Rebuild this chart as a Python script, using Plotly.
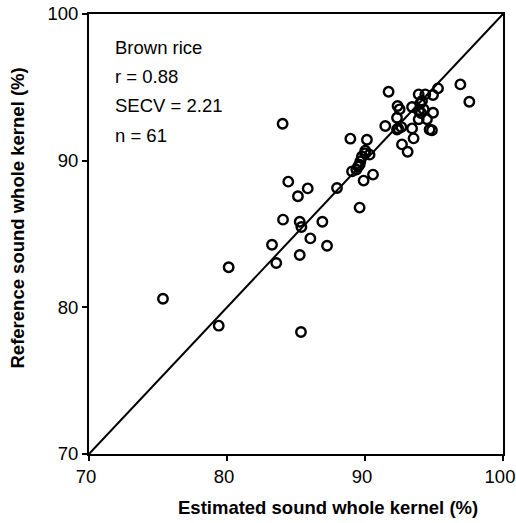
import plotly.graph_objects as go

estimated = [75.36, 79.40, 80.12, 85.36, 83.57, 83.26, 85.27, 86.04, 87.25, 86.91,
             85.27, 85.39, 84.06, 85.14, 84.44, 85.85, 87.97, 84.03, 89.61, 89.90,
             90.58, 89.06, 89.37, 89.66, 89.78, 90.02, 90.33, 90.14, 88.94, 91.71,
             91.47, 92.32, 92.63, 92.68, 93.09, 93.52, 93.41, 92.32, 92.36, 92.51,
             93.41, 93.89, 93.89, 94.06, 94.13, 94.37, 94.25, 94.00, 94.68, 94.85,
             94.93, 94.93, 95.29, 96.91, 97.56, 94.49, 89.61, 89.50, 93.90, 92.40,
             90.00]
reference = [80.59, 78.75, 82.73, 78.32, 83.02, 84.27, 83.57, 84.70, 84.20, 85.84,
             85.84, 85.48, 85.98, 87.57, 88.57, 88.11, 88.14, 92.52, 86.80, 88.64,
             89.05, 89.27, 89.39, 89.95, 90.29, 90.68, 90.41, 91.43, 91.50, 94.70,
             92.36, 92.13, 92.29, 91.11, 90.61, 91.52, 92.20, 92.93, 93.73, 93.50,
             93.66, 94.52, 92.82, 93.25, 94.07, 94.52, 93.50, 93.90, 92.13, 92.07,
             93.27, 94.48, 94.93, 95.20, 94.02, 92.82, 89.73, 89.60, 93.40, 92.20,
             90.50]

line_x = [70, 100]
line_y = [70, 100]
ticks = [70, 80, 90, 100]
stats_lines = ["Brown rice", "r = 0.88", "SECV = 2.21", "n = 61"]
x_title = "Estimated sound whole kernel (%)"
y_title = "Reference sound whole kernel (%)"

FONT = "Arial, 'Liberation Sans', sans-serif"

fig = go.Figure()
fig.add_trace(go.Scatter(x=line_x, y=line_y, mode="lines",
                         line=dict(color="black", width=2), showlegend=False,
                         hoverinfo="skip"))
fig.add_trace(go.Scatter(x=estimated, y=reference, mode="markers",
                         marker=dict(symbol="circle-open", size=9.5,
                                     color="black", line=dict(width=2.4)),
                         showlegend=False))

axis_common = dict(range=[70, 100], tickvals=ticks, ticktext=[str(t) for t in ticks],
                   showline=True, linecolor="black", linewidth=2, mirror=True,
                   ticks="outside", ticklen=5, tickwidth=1.5, tickcolor="black",
                   showgrid=False, zeroline=False, ticklabeloverflow="allow",
                   automargin=False,
                   tickfont=dict(family=FONT, size=18.5, color="black"))

fig.update_layout(
    width=516, height=523,
    margin=dict(l=89, r=13, t=14, b=69, autoexpand=False),
    paper_bgcolor="white", plot_bgcolor="white",
    xaxis=dict(**axis_common, ticklabelshift=-3),
    yaxis=dict(**axis_common),
)

fig.add_annotation(x=0.577, y=-0.122, xref="paper", yref="paper",
                   xanchor="center", yanchor="middle", showarrow=False,
                   text="<b>" + x_title + "</b>",
                   font=dict(family=FONT, size=18.5, color="black"))
fig.add_annotation(x=-0.172, y=0.537, xref="paper", yref="paper",
                   xanchor="center", yanchor="middle", showarrow=False,
                   textangle=-90, text="<b>" + y_title + "</b>",
                   font=dict(family=FONT, size=18.5, color="black"))

for i, s in enumerate(stats_lines):
    fig.add_annotation(x=0.059, y=0.924 - i * 0.0665, xref="paper", yref="paper",
                       xanchor="left", yanchor="middle", showarrow=False,
                       text=s, font=dict(family=FONT, size=18.5, color="black"))

fig.write_html("out.html")
